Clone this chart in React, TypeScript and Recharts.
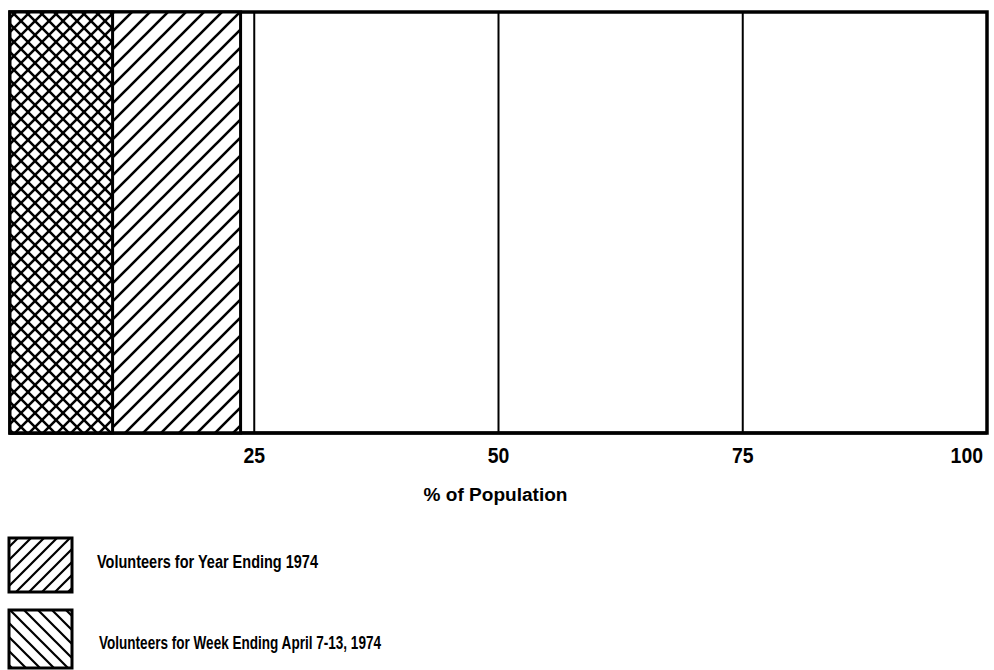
import React from "react";
import {
  Bar,
  BarChart,
  CartesianGrid,
  ReferenceArea,
  XAxis,
  YAxis,
} from "recharts";

const categories = ["Volunteers"];
const yearShare = [23.6];
const weekShare = [10.5];
const xTicks = [25, 50, 75, 100];
const seriesNames = [
  "Volunteers for Year Ending 1974",
  "Volunteers for Week Ending April 7-13, 1974",
];
const axisTitle = "% of Population";

// no condensed face is installed, so text is squeezed with textLength
const FONT = "'Liberation Sans', Arial, sans-serif";

const data = categories.map((name, i) => ({
  name,
  year: yearShare[i],
  week: weekShare[i],
}));

function PctTick({ x, y, payload }: { x?: number; y?: number; payload?: { value: number } }) {
  const v = payload?.value ?? 0;
  const last = v === 100;
  const label = String(v);
  return (
    <text
      x={last ? (x ?? 0) + 1 : x}
      y={(y ?? 0) + 30}
      textAnchor={last ? "end" : "middle"}
      fill="#000"
      fontFamily={FONT}
      fontWeight={700}
      fontSize={22}
      textLength={label.length * 10.8}
      lengthAdjust="spacingAndGlyphs"
    >
      {label}
    </text>
  );
}

function AxisTitle({ viewBox }: { viewBox?: { x: number; y: number; width: number; height: number } }) {
  if (!viewBox) return null;
  return (
    <text
      x={viewBox.x + viewBox.width / 2 - 3}
      y={viewBox.y + 68}
      textAnchor="middle"
      fill="#000"
      fontFamily={FONT}
      fontWeight={700}
      fontSize={18}
      textLength={144}
      lengthAdjust="spacingAndGlyphs"
    >
      {axisTitle}
    </text>
  );
}

function LegendBlock() {
  return (
    <svg width={994} height={140} style={{ position: "absolute", left: 0, top: 530 }}>
      <defs>
        <pattern id="lgFwd" width="13" height="13" patternUnits="userSpaceOnUse">
          <path
            d="M0,13 L13,0 M-3.25,3.25 L3.25,-3.25 M9.75,16.25 L16.25,9.75"
            stroke="#000"
            strokeWidth={2.2}
          />
        </pattern>
        <pattern id="lgBack" width="14" height="14" patternUnits="userSpaceOnUse">
          <path
            d="M0,0 L14,14 M-3.5,10.5 L3.5,17.5 M10.5,-3.5 L17.5,3.5"
            stroke="#000"
            strokeWidth={2.2}
          />
        </pattern>
      </defs>
      <rect x={9} y={8} width={63} height={54} fill="url(#lgFwd)" stroke="#000" strokeWidth={3} />
      <text
        x={97}
        y={38}
        fontFamily={FONT}
        fontWeight={700}
        fontSize={18}
        fill="#000"
        textLength={221}
        lengthAdjust="spacingAndGlyphs"
      >
        {seriesNames[0]}
      </text>
      <rect x={9} y={80} width={63} height={58} fill="url(#lgBack)" stroke="#000" strokeWidth={3} />
      <text
        x={99}
        y={119}
        fontFamily={FONT}
        fontWeight={700}
        fontSize={18}
        fill="#000"
        textLength={282}
        lengthAdjust="spacingAndGlyphs"
      >
        {seriesNames[1]}
      </text>
    </svg>
  );
}

export default function App() {
  return (
    <div style={{ position: "absolute", left: 0, top: 0, width: 994, height: 670, background: "#fff" }}>
      <BarChart
        width={994}
        height={520}
        data={data}
        layout="vertical"
        barCategoryGap={0}
        margin={{ top: 12, right: 7, left: 10, bottom: 0 }}
      >
        <defs>
          <pattern id="yearFill" width="18" height="18" patternUnits="userSpaceOnUse">
            <rect width="18" height="18" fill="#fff" />
            <path
              d="M0,18 L18,0 M-4.5,4.5 L4.5,-4.5 M13.5,22.5 L22.5,13.5"
              stroke="#000"
              strokeWidth={2.6}
            />
          </pattern>
          {/* week bar sits over the year bar, so its area shows both hatches */}
          <pattern id="weekFill" width="14" height="14" patternUnits="userSpaceOnUse">
            <rect width="14" height="14" fill="#fff" />
            <path
              d="M0,14 L14,0 M-3.5,3.5 L3.5,-3.5 M10.5,17.5 L17.5,10.5"
              stroke="#000"
              strokeWidth={2.5}
            />
            <path
              d="M0,0 L14,14 M-3.5,10.5 L3.5,17.5 M10.5,-3.5 L17.5,3.5"
              stroke="#000"
              strokeWidth={2.5}
            />
          </pattern>
        </defs>
        <CartesianGrid horizontal={false} stroke="#000" strokeWidth={2} yAxisId="year" />
        <XAxis
          type="number"
          domain={[0, 100]}
          ticks={xTicks}
          tickLine={false}
          tickSize={0}
          tickMargin={0}
          height={87}
          axisLine={{ stroke: "#000", strokeWidth: 3 }}
          tick={<PctTick />}
          label={<AxisTitle />}
        />
        <YAxis yAxisId="year" type="category" dataKey="name" hide />
        <YAxis yAxisId="week" type="category" dataKey="name" hide />
        <Bar
          yAxisId="year"
          dataKey="year"
          name={seriesNames[0]}
          fill="url(#yearFill)"
          stroke="#000"
          strokeWidth={3}
          isAnimationActive={false}
        />
        <Bar
          yAxisId="week"
          dataKey="week"
          name={seriesNames[1]}
          fill="url(#weekFill)"
          stroke="#000"
          strokeWidth={3}
          isAnimationActive={false}
        />
        <ReferenceArea
          yAxisId="year"
          x1={0}
          x2={100}
          fill="none"
          stroke="#000"
          strokeWidth={3.5}
          ifOverflow="visible"
        />
      </BarChart>
      <LegendBlock />
    </div>
  );
}
